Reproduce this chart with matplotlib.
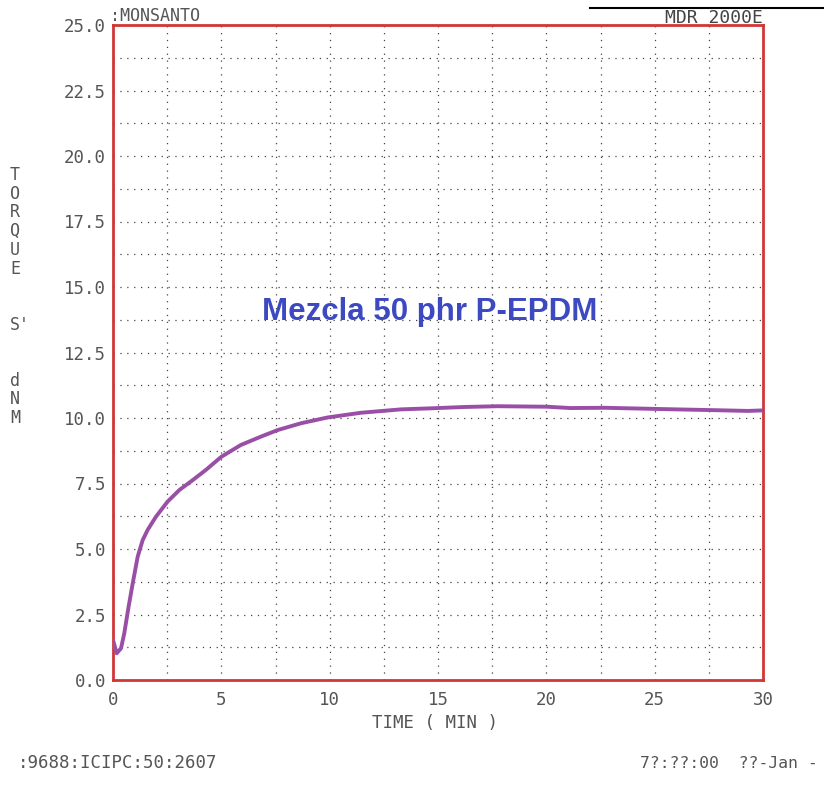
import numpy as np
import matplotlib.pyplot as plt

# Rheometer cure curve: torque S' (dNm) against time (min)
time_min = [0, 0.17, 0.37, 0.52, 0.72, 0.91, 1.14, 1.37, 1.6, 1.98, 2.52,
            3.06, 3.68, 4.29, 5.0, 5.9, 6.83, 7.6, 8.68, 9.9, 11.44, 13.3,
            14.7, 16.2, 17.75, 20.06, 21.1, 22.7, 25.4, 27.7, 29.3, 30.0]
torque = [1.53, 1.02, 1.21, 1.78, 2.8, 3.69, 4.71, 5.34, 5.73, 6.23, 6.81,
          7.25, 7.63, 8.02, 8.52, 8.97, 9.29, 9.54, 9.8, 10.02, 10.2, 10.33,
          10.37, 10.42, 10.45, 10.43, 10.38, 10.39, 10.34, 10.3, 10.27, 10.29]

x_ticks = [0, 5, 10, 15, 20, 25, 30]
y_ticks = [0.0, 2.5, 5.0, 7.5, 10.0, 12.5, 15.0, 17.5, 20.0, 22.5, 25.0]
ylabel_letters = ["T", "O", "R", "Q", "U", "E", "", "", "S'", "", "", "d", "N", "M"]

mono = "DejaVu Sans Mono"
grey = "#555555"

fig = plt.figure(figsize=(8.24, 7.85), dpi=100)
ax = fig.add_axes([113 / 824, 1 - 680 / 785, 650 / 824, 655 / 785])

ax.set_xlim(0, 30)
ax.set_ylim(0, 25)

# dotted plotter grid, every 2.5 min and every 1.25 dNm
for gx in np.arange(2.5, 30, 2.5):
    ax.axvline(gx, color="#444444", lw=0.9, ls=(0, (1, 4.5)), zorder=1)
for gy in np.arange(1.25, 25, 1.25):
    ax.axhline(gy, color="#444444", lw=0.9, ls=(0, (1, 4.5)), zorder=1)

ax.plot(time_min, torque, color="#9a4fa6", lw=2.8, zorder=3,
        solid_capstyle="round", solid_joinstyle="round")

for side in ax.spines.values():
    side.set_color("#d23535")
    side.set_linewidth(2)

ax.set_xticks(x_ticks)
ax.set_xticklabels([str(v) for v in x_ticks])
ax.set_yticks(y_ticks)
ax.set_yticklabels([f"{v:.1f}" for v in y_ticks])
ax.tick_params(length=0, colors=grey, labelsize=12.5)
ax.tick_params(axis="x", pad=8)
ax.tick_params(axis="y", pad=5)
for lab in ax.get_xticklabels() + ax.get_yticklabels():
    lab.set_family(mono)

ax.text(14.6, 14.05, "Mezcla 50 phr P-EPDM", ha="center", va="center",
        fontsize=22.5, fontweight="bold", color="#3c49c0",
        family="Liberation Sans", zorder=4)

# axis captions in plotter style
fig.text(435 / 824, 1 - 723 / 785, "TIME ( MIN )", ha="center", va="center",
         family=mono, fontsize=12.5, color=grey)
for i, ch in enumerate(ylabel_letters):
    if ch:
        fig.text(10 / 824, 1 - (175 + i * 18.7) / 785, ch, ha="left",
                 va="center", family=mono, fontsize=12, color=grey)

fig.text(110 / 824, 1 - 16 / 785, ":MONSANTO", ha="left", va="center",
         family=mono, fontsize=12, color=grey)
fig.text(763 / 824, 1 - 18 / 785, "MDR 2000E", ha="right", va="center",
         family=mono, fontsize=13, color="#444444")
fig.add_artist(plt.Line2D([590 / 824, 1], [1 - 8 / 785, 1 - 8 / 785],
                          color="black", lw=1.5))

fig.text(18 / 824, 1 - 763 / 785, ":9688:ICIPC:50:2607", ha="left",
         va="center", family=mono, fontsize=12.5, color=grey)
fig.text(640 / 824, 1 - 763 / 785, "7?:??:00  ??-Jan -", ha="left",
         va="center", family=mono, fontsize=11.8, color=grey)

fig.savefig("out.png", dpi=100)
